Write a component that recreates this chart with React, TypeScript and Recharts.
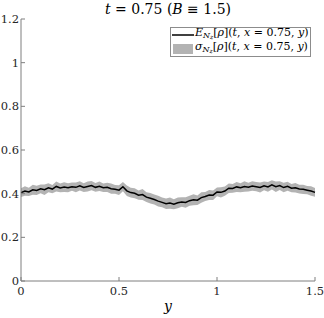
import React from "react";
import { ComposedChart, Area, Line, XAxis, YAxis } from "recharts";

const yPositions = [
  0.0, 0.02, 0.04, 0.06, 0.08, 0.1, 0.12, 0.14, 0.16, 0.18, 0.2, 0.22, 0.24, 0.26, 0.28, 0.3, 0.32, 0.34, 0.36, 0.38,
  0.4, 0.42, 0.44, 0.46, 0.48, 0.5, 0.52, 0.54, 0.56, 0.58, 0.6, 0.62, 0.64, 0.66, 0.68, 0.7, 0.72, 0.74, 0.76, 0.78,
  0.8, 0.82, 0.84, 0.86, 0.88, 0.9, 0.92, 0.94, 0.96, 0.98, 1.0, 1.02, 1.04, 1.06, 1.08, 1.1, 1.12, 1.14, 1.16, 1.18,
  1.2, 1.22, 1.24, 1.26, 1.28, 1.3, 1.32, 1.34, 1.36, 1.38, 1.4, 1.42, 1.44, 1.46, 1.48, 1.5,
];

const meanValues = [
  0.405, 0.412, 0.408, 0.418, 0.415, 0.422, 0.418, 0.427, 0.421, 0.433, 0.426, 0.43, 0.427, 0.432, 0.429, 0.436, 0.428, 0.433, 0.437, 0.429,
  0.434, 0.427, 0.429, 0.423, 0.42, 0.416, 0.432, 0.413, 0.405, 0.402, 0.393, 0.396, 0.384, 0.379, 0.373, 0.366, 0.36, 0.354, 0.357, 0.352,
  0.358, 0.362, 0.36, 0.368, 0.372, 0.37, 0.382, 0.387, 0.394, 0.393, 0.408, 0.406, 0.412, 0.425, 0.424, 0.431, 0.427, 0.433, 0.43, 0.435,
  0.432, 0.428, 0.436, 0.431, 0.44, 0.432, 0.437, 0.428, 0.434, 0.425, 0.427, 0.421, 0.42, 0.416, 0.412, 0.406,
];

const sigmaValues = [
  0.02, 0.022, 0.019, 0.023, 0.021, 0.02, 0.024, 0.021, 0.019, 0.023, 0.02, 0.022, 0.021, 0.019, 0.022, 0.021, 0.02, 0.023, 0.021, 0.02,
  0.022, 0.019, 0.021, 0.023, 0.02, 0.022, 0.021, 0.024, 0.022, 0.023, 0.021, 0.025, 0.022, 0.024, 0.023, 0.025, 0.022, 0.024, 0.026, 0.023,
  0.025, 0.022, 0.024, 0.023, 0.025, 0.022, 0.024, 0.021, 0.023, 0.022, 0.02, 0.023, 0.021, 0.022, 0.02, 0.023, 0.021, 0.024, 0.02, 0.022,
  0.021, 0.023, 0.02, 0.022, 0.021, 0.024, 0.02, 0.022, 0.021, 0.019, 0.022, 0.02, 0.021, 0.019, 0.022, 0.02,
];

const xTicks = [0, 0.5, 1, 1.5];
const yTicks = [0, 0.2, 0.4, 0.6, 0.8, 1, 1.2];

const data = yPositions.map((y, i) => ({
  y,
  mean: meanValues[i],
  band: [meanValues[i] - sigmaValues[i], meanValues[i] + sigmaValues[i]],
}));

const FONT = "DejaVu Serif";
const AXIS = "#7f7f7f";
const BAND = "#b3b3b3";

const fmt = (v: number) => String(v);

function LegendLabel({ sym }: { sym: string }) {
  return (
    <span style={{ whiteSpace: "nowrap" }}>
      <i>{sym}</i>
      <sub style={{ fontSize: 8, verticalAlign: "-2px" }}>
        <i>N</i>
        <sub style={{ fontSize: 6, verticalAlign: "-1px" }}>
          <i>z</i>
        </sub>
      </sub>
      [<i>ρ</i>](<i>t</i>, <i>x</i> = 0.75, <i>y</i>)
    </span>
  );
}

export default function App() {
  return (
    <div style={{ position: "absolute", left: 0, top: 0, width: 324, height: 318, background: "#fff", fontFamily: FONT }}>
      <ComposedChart width={324} height={318} data={data} margin={{ top: 19, right: 9, left: 0, bottom: 0 }}>
        <XAxis
          dataKey="y"
          type="number"
          domain={[0, 1.5]}
          ticks={xTicks}
          tickFormatter={fmt}
          height={37}
          stroke={AXIS}
          tickSize={-4}
          tickMargin={10}
          tick={{ fill: "#262626", fontSize: 11.5, fontFamily: FONT }}
        />
        <YAxis
          type="number"
          domain={[0, 1.2]}
          ticks={yTicks}
          tickFormatter={fmt}
          width={21}
          stroke={AXIS}
          tickSize={-4}
          tickMargin={6}
          tick={{ fill: "#262626", fontSize: 11.5, fontFamily: FONT }}
        />
        <Area dataKey="band" stroke="none" fill={BAND} fillOpacity={1} isAnimationActive={false} />
        <Line dataKey="mean" stroke="#000" strokeWidth={1.5} dot={false} isAnimationActive={false} />
      </ComposedChart>

      <div
        style={{
          position: "absolute",
          left: 0,
          width: 336,
          top: 1,
          textAlign: "center",
          fontSize: 14,
          color: "#000",
          whiteSpace: "nowrap",
        }}
      >
        <i>t</i> = 0.75 (<i>B</i> ≡ 1.5)
      </div>

      <div
        style={{
          position: "absolute",
          left: 0,
          width: 336,
          top: 298,
          textAlign: "center",
          fontSize: 14,
          fontStyle: "italic",
        }}
      >
        y
      </div>

      <div
        style={{
          position: "absolute",
          left: 170,
          top: 27,
          width: 139,
          height: 28,
          border: "1px solid #8c8c8c",
          background: "#fff",
          fontSize: 11,
          lineHeight: "14px",
          color: "#000",
          overflow: "hidden",
        }}
      >
        <div style={{ display: "flex", alignItems: "center", height: 14 }}>
          <svg width={24} height={14} style={{ flex: "none" }}>
            <line x1={1} y1={7} x2={23} y2={7} stroke="#000" strokeWidth={1.5} />
          </svg>
          <LegendLabel sym="E" />
        </div>
        <div style={{ display: "flex", alignItems: "center", height: 14 }}>
          <svg width={24} height={14} style={{ flex: "none" }}>
            <rect x={2} y={2} width={20} height={10} fill={BAND} />
          </svg>
          <LegendLabel sym="σ" />
        </div>
      </div>
    </div>
  );
}
